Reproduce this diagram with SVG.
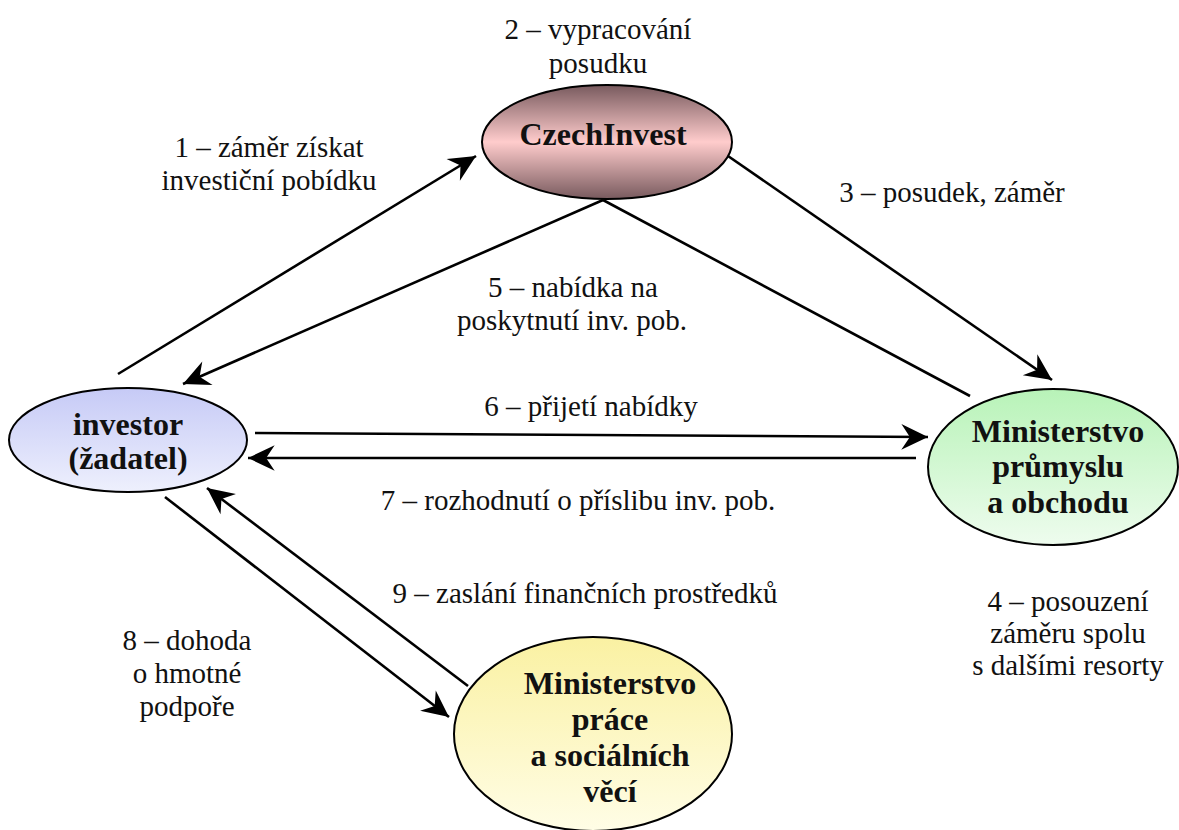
<svg xmlns="http://www.w3.org/2000/svg" width="1179" height="830" viewBox="0 0 1179 830">
<style>
text{font-family:'Liberation Serif','Times New Roman',serif}
.lbl{font-size:29px;fill:#111;text-anchor:middle}
.node{font-size:32px;font-weight:bold;fill:#111;text-anchor:middle}
.shape{stroke:#000;stroke-width:2}
.conn{stroke:#000;stroke-width:2.6;fill:none}
</style>
<defs>
<linearGradient id="gCz" x1="0" y1="0" x2="0" y2="1">
<stop offset="0" stop-color="#785a5e"/><stop offset="0.5" stop-color="#ffcccc"/><stop offset="1" stop-color="#785a5e"/>
</linearGradient>
<linearGradient id="gInv" x1="0" y1="0" x2="0" y2="1">
<stop offset="0" stop-color="#c6caf6"/><stop offset="1" stop-color="#eef0fd"/>
</linearGradient>
<linearGradient id="gMpo" x1="0" y1="0" x2="0" y2="1">
<stop offset="0" stop-color="#b8f3b8"/><stop offset="1" stop-color="#eefcee"/>
</linearGradient>
<linearGradient id="gMpsv" x1="0" y1="0" x2="0" y2="1">
<stop offset="0" stop-color="#faf1a2"/><stop offset="1" stop-color="#fffde6"/>
</linearGradient>
<marker id="arr" markerUnits="userSpaceOnUse" markerWidth="32" markerHeight="32" viewBox="-28 -14 30 28" refX="0" refY="0" orient="auto">
<path d="M0,0 L-25,-12 L-17,0 L-25,12 z" fill="#000"/>
</marker>
</defs>
<g id="connectors">
<line class="conn" x1="118" y1="374" x2="476" y2="156" marker-end="url(#arr)"/>
<line class="conn" x1="603" y1="200" x2="183" y2="384" marker-end="url(#arr)"/>
<line class="conn" x1="603" y1="200" x2="970" y2="396"/>
<line class="conn" x1="728" y1="156" x2="1052" y2="380" marker-end="url(#arr)"/>
<line class="conn" x1="255" y1="433" x2="928" y2="437" marker-end="url(#arr)"/>
<line class="conn" x1="916" y1="458" x2="248" y2="458" marker-end="url(#arr)"/>
<line class="conn" x1="165" y1="497" x2="449" y2="717" marker-end="url(#arr)"/>
<line class="conn" x1="468" y1="686" x2="207" y2="488" marker-end="url(#arr)"/>
</g>
<g id="labels">
<text class="lbl" x="598" y="39">2 – vypracování</text>
<text class="lbl" x="598" y="73">posudku</text>
<text class="lbl" x="269" y="157">1 – záměr získat</text>
<text class="lbl" x="269" y="190">investiční pobídku</text>
<text class="lbl" x="952" y="202">3 – posudek, záměr</text>
<text class="lbl" x="573" y="297">5 – nabídka na</text>
<text class="lbl" x="572" y="330">poskytnutí inv. pob.</text>
<text class="lbl" x="591" y="416">6 – přijetí nabídky</text>
<text class="lbl" x="578" y="510">7 – rozhodnutí o příslibu inv. pob.</text>
<text class="lbl" x="585" y="603">9 – zaslání finančních prostředků</text>
<text class="lbl" x="187" y="650">8 – dohoda</text>
<text class="lbl" x="187" y="683">o hmotné</text>
<text class="lbl" x="187" y="716">podpoře</text>
<text class="lbl" x="1068" y="611">4 – posouzení</text>
<text class="lbl" x="1068" y="643">záměru spolu</text>
<text class="lbl" x="1068" y="675">s dalšími resorty</text>
</g>
<g id="czechinvest">
<ellipse class="shape" cx="607" cy="142" rx="125" ry="57" fill="url(#gCz)"/>
<text class="node" x="603" y="145">CzechInvest</text>
</g>
<g id="investor">
<ellipse class="shape" cx="128" cy="440" rx="119" ry="52" fill="url(#gInv)"/>
<text class="node" x="128" y="435">investor</text>
<text class="node" x="128" y="469">(žadatel)</text>
</g>
<g id="mpo">
<ellipse class="shape" cx="1053" cy="467" rx="125" ry="78" fill="url(#gMpo)"/>
<text class="node" x="1058" y="442">Ministerstvo</text>
<text class="node" x="1058" y="477">průmyslu</text>
<text class="node" x="1058" y="513">a obchodu</text>
</g>
<g id="mpsv">
<ellipse class="shape" cx="593" cy="734" rx="139" ry="97" fill="url(#gMpsv)"/>
<text class="node" x="610" y="694">Ministerstvo</text>
<text class="node" x="610" y="730">práce</text>
<text class="node" x="610" y="766">a sociálních</text>
<text class="node" x="610" y="802">věcí</text>
</g>
</svg>
